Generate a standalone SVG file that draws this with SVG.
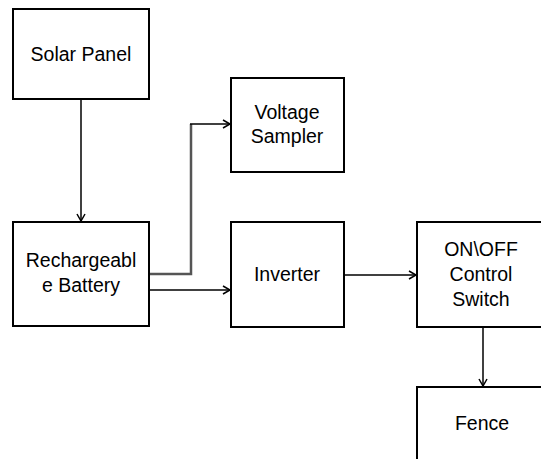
<svg xmlns="http://www.w3.org/2000/svg" width="541" height="459" viewBox="0 0 541 459">
<defs>
<style>
.box{fill:#fff;stroke:#000;stroke-width:2}
.t{font-family:"Liberation Sans",Arial,sans-serif;font-size:19.5px;fill:#000;text-anchor:middle}
.c{fill:none;stroke:#000;stroke-width:1.5}
.g{fill:none;stroke:#555;stroke-width:2.5}
</style>
<marker id="a" markerWidth="10" markerHeight="10" refX="8" refY="5" orient="auto" markerUnits="userSpaceOnUse">
<path d="M1,1 L8,5 L1,9" fill="none" stroke="#000" stroke-width="1.5"/>
</marker>
</defs>
<rect width="541" height="459" fill="#fff"/>
<g id="connectors">
<line class="c" x1="81" y1="99" x2="81" y2="221" marker-end="url(#a)"/>
<polyline class="g" points="150,274 191,274 191,124"/>
<polyline class="c" points="190,124 230,124" marker-end="url(#a)"/>
<line class="c" x1="150" y1="290" x2="230" y2="290" marker-end="url(#a)"/>
<line class="c" x1="345" y1="275" x2="416" y2="275" marker-end="url(#a)"/>
<line class="c" x1="483" y1="327" x2="483" y2="386" marker-end="url(#a)"/>
</g>
<g id="solar">
<rect class="box" x="13" y="9" width="136" height="90"/>
<text class="t" x="81" y="61">Solar Panel</text>
</g>
<g id="battery">
<rect class="box" x="13" y="222" width="136" height="104"/>
<text class="t" x="81" y="267">Rechargeabl</text>
<text class="t" x="81" y="292">e Battery</text>
</g>
<g id="sampler">
<rect class="box" x="231" y="78" width="113" height="94"/>
<text class="t" x="287" y="119">Voltage</text>
<text class="t" x="287" y="143">Sampler</text>
</g>
<g id="inverter">
<rect class="box" x="231" y="222" width="113" height="105"/>
<text class="t" x="287" y="281">Inverter</text>
</g>
<g id="switch">
<rect class="box" x="417" y="222" width="140" height="105"/>
<text class="t" x="481" y="256">ON\OFF</text>
<text class="t" x="481" y="281">Control</text>
<text class="t" x="481" y="306">Switch</text>
</g>
<g id="fence">
<rect class="box" x="417" y="387" width="140" height="90"/>
<text class="t" x="482" y="430">Fence</text>
</g>
</svg>
